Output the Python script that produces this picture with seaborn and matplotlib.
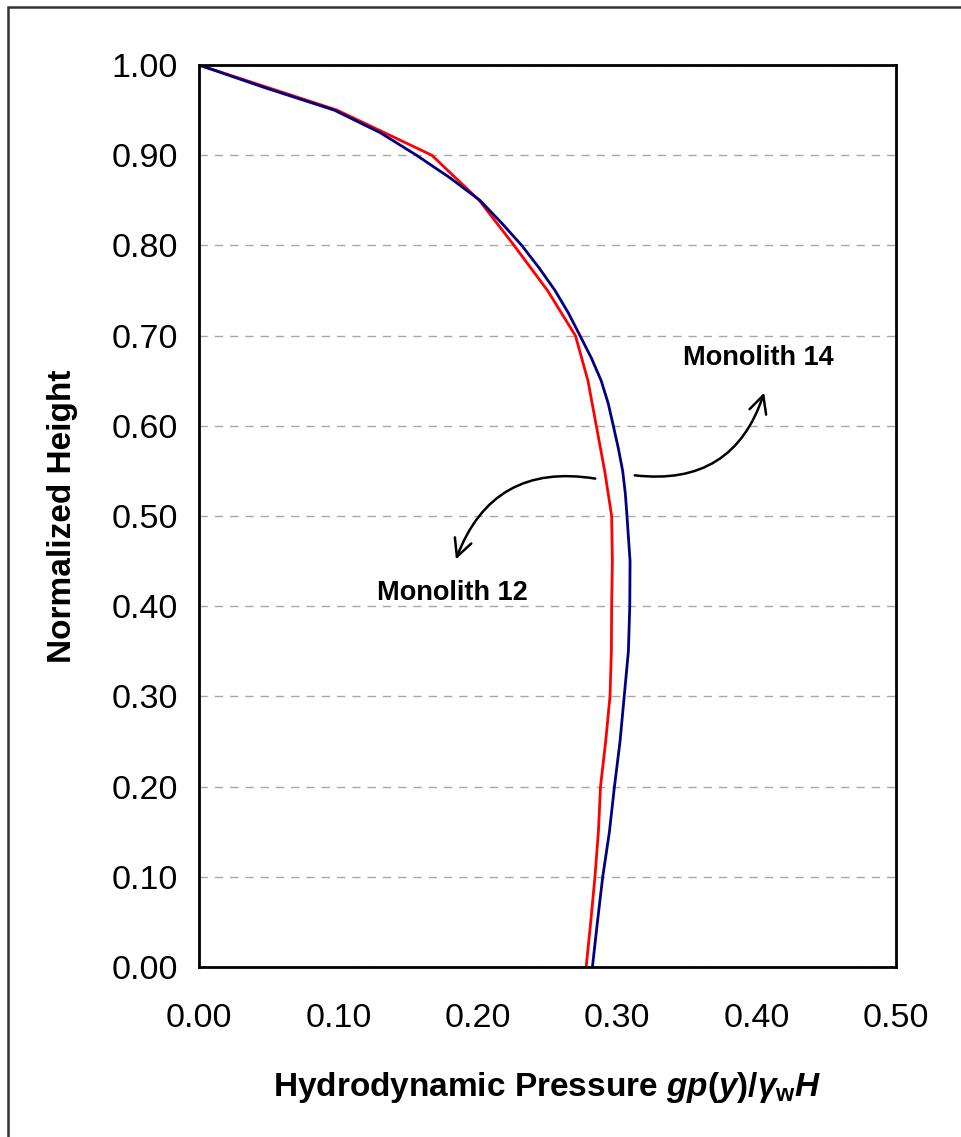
import matplotlib
matplotlib.use("Agg")
import matplotlib.pyplot as plt
from matplotlib.patches import FancyArrowPatch, Rectangle
import numpy as np
import pandas as pd
import seaborn as sns

# Normalized height levels and pressure coefficients for each monolith
height_m12 = [1.00, 0.95, 0.90, 0.85, 0.80, 0.75, 0.70, 0.65, 0.60, 0.55,
              0.50, 0.45, 0.40, 0.35, 0.30, 0.25, 0.20, 0.15, 0.10, 0.05, 0.00]
pressure_m12 = [0.000, 0.099, 0.167, 0.201, 0.226, 0.250, 0.270, 0.279, 0.285, 0.291,
                0.296, 0.2965, 0.296, 0.2958, 0.2948, 0.2917, 0.288, 0.2865, 0.284, 0.281, 0.2777]

height_m14 = [1.00, 0.975, 0.95, 0.925, 0.90, 0.875, 0.85, 0.825, 0.80, 0.775, 0.75,
              0.725, 0.70, 0.675, 0.65, 0.625, 0.60, 0.575, 0.55, 0.525, 0.50, 0.45,
              0.40, 0.35, 0.30, 0.25, 0.20, 0.15, 0.10, 0.05, 0.00]
pressure_m14 = [0.000, 0.047, 0.097, 0.130, 0.156, 0.180, 0.2015, 0.217, 0.2315, 0.244, 0.2554,
                0.265, 0.2733, 0.2815, 0.2885, 0.2935, 0.2972, 0.3008, 0.3039, 0.3058, 0.3070, 0.3092,
                0.3090, 0.3080, 0.3050, 0.3020, 0.2980, 0.2944, 0.2896, 0.2858, 0.2822]

x_ticks = [0.00, 0.10, 0.20, 0.30, 0.40, 0.50]
y_ticks = [0.00, 0.10, 0.20, 0.30, 0.40, 0.50, 0.60, 0.70, 0.80, 0.90, 1.00]

df = pd.concat([
    pd.DataFrame({"pressure": pressure_m12, "height": height_m12, "series": "Monolith 12"}),
    pd.DataFrame({"pressure": pressure_m14, "height": height_m14, "series": "Monolith 14"}),
])

sns.set_theme(style="white")
plt.rcParams["font.family"] = ["Liberation Sans", "DejaVu Sans"]
plt.rcParams["text.color"] = "black"
plt.rcParams["axes.labelcolor"] = "black"
plt.rcParams["mathtext.fontset"] = "custom"
plt.rcParams["mathtext.rm"] = "Liberation Sans:bold"
plt.rcParams["mathtext.bf"] = "Liberation Sans:bold"
plt.rcParams["mathtext.it"] = "Liberation Sans:bold:italic"

fig = plt.figure(figsize=(9.61, 11.37), dpi=100)
ax = fig.add_axes([0.2071, 0.1495, 0.9324 - 0.2071, 0.9428 - 0.1495])

sns.lineplot(data=df, x="pressure", y="height", hue="series",
             palette={"Monolith 12": "#ff0000", "Monolith 14": "#000080"},
             sort=False, estimator=None, linewidth=2.0, legend=False, ax=ax)

ax.set_xlim(0, 0.5)
ax.set_ylim(0, 1.0)
ax.set_xticks(x_ticks)
ax.set_yticks(y_ticks)
ax.set_xticklabels([f"{v:.2f}" for v in x_ticks])
ax.set_yticklabels([f"{v:.2f}" for v in y_ticks])
ax.tick_params(axis="both", labelsize=24.5, colors="black", direction="out",
               length=7, width=1.2, pad=8)
ax.tick_params(axis="x", pad=19)

ax.yaxis.grid(True, linestyle=(0, (6, 5)), color="#a8a8a8", linewidth=1.0)
ax.xaxis.grid(False)
for spine in ax.spines.values():
    spine.set_color("black")
    spine.set_linewidth(2.0)

ax.set_ylabel("Normalized Height", fontsize=24, fontweight="bold", labelpad=24)
ax.set_xlabel(r"Hydrodynamic Pressure $gp(y)/\gamma_{\mathrm{w}}H$",
              fontsize=24, fontweight="bold", labelpad=26)

# Curved callouts pointing to each curve's label
arrow_kw = dict(arrowstyle="->,head_length=0.9,head_width=0.45", color="black",
                linewidth=1.8, mutation_scale=14)
ax.add_patch(FancyArrowPatch((0.3106, 0.5455), (0.406, 0.6397),
                             connectionstyle="arc3,rad=0.42", **arrow_kw))
ax.add_patch(FancyArrowPatch((0.2862, 0.5410), (0.1836, 0.4490),
                             connectionstyle="arc3,rad=0.42", **arrow_kw))
ax.text(0.401, 0.6751, "Monolith 14", fontsize=19.5, fontweight="bold",
        ha="center", va="center")
ax.text(0.1815, 0.4146, "Monolith 12", fontsize=19.5, fontweight="bold",
        ha="center", va="center")

# Outer frame of the chart area
fig.patches.append(Rectangle((8 / 961, -0.1), 1.2, 1 - 7 / 1137 + 0.1,
                             transform=fig.transFigure, fill=False,
                             edgecolor="#333333", linewidth=1.8))

fig.savefig("out.png", dpi=100)
